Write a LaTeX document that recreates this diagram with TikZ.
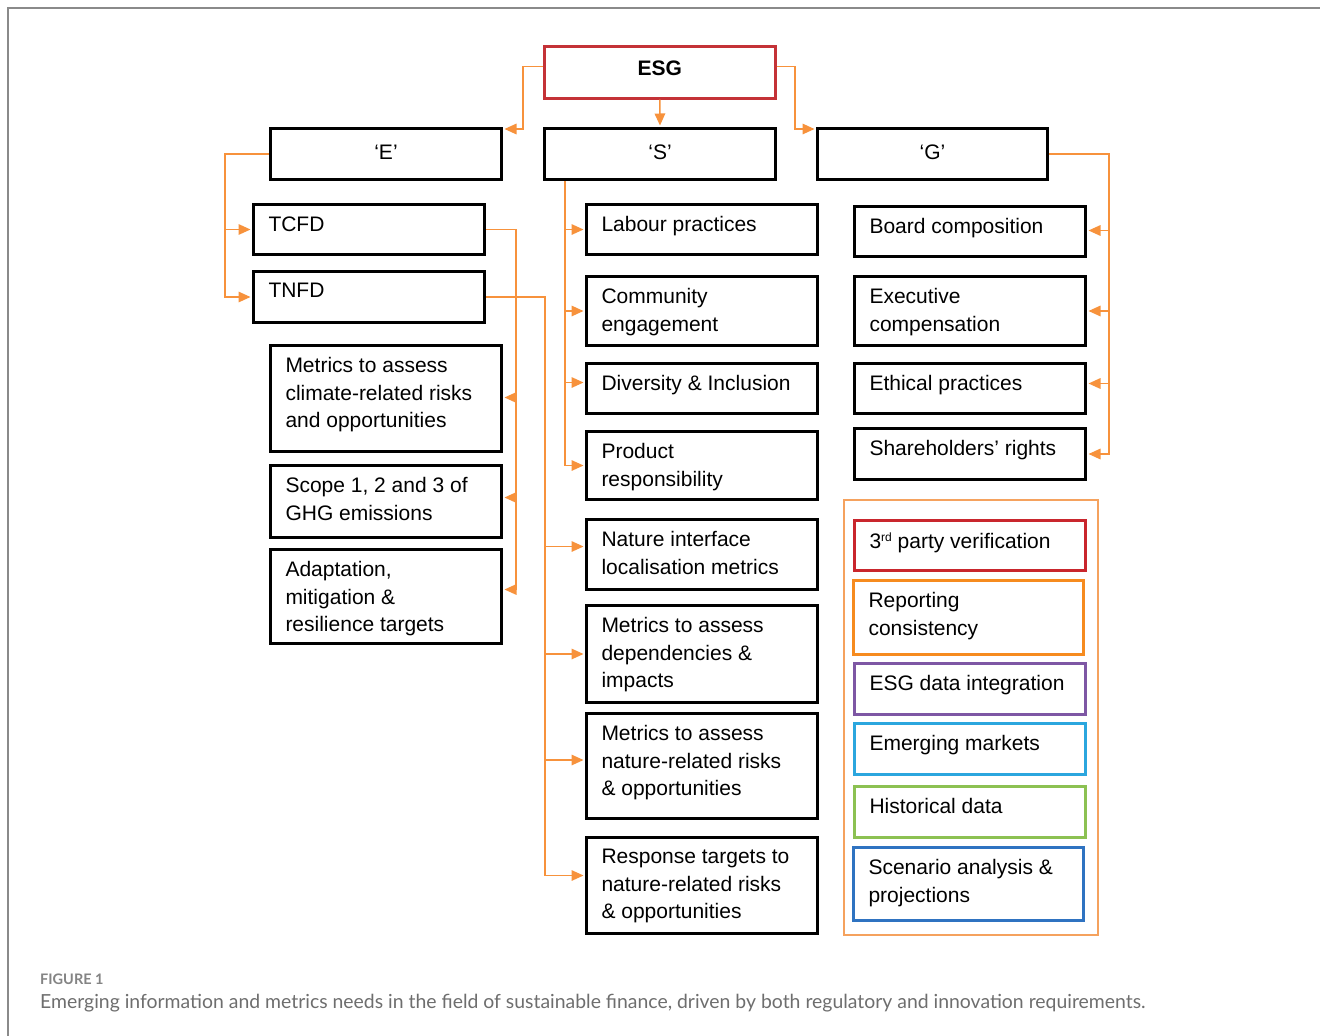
\documentclass[tikz,border=0pt]{standalone}
\usepackage{fontspec}
\setmainfont{Liberation Sans}
\newfontfamily\capfont{Lato}
\usetikzlibrary{arrows.meta,calc}
\definecolor{conor}{HTML}{F7923C}
\definecolor{contor}{HTML}{F5A25E}
\definecolor{esgred}{HTML}{C43237}
\definecolor{bred}{HTML}{C9262D}
\definecolor{bor}{HTML}{F68B1F}
\definecolor{bpur}{HTML}{7E57A4}
\definecolor{bcyan}{HTML}{2BA6DE}
\definecolor{bgreen}{HTML}{8CC152}
\definecolor{bblue}{HTML}{2F73C1}
\definecolor{framegray}{HTML}{8A8A8A}
\definecolor{capgray}{HTML}{6E6E6E}
\newcommand\tbox[7]{\node[bx,draw=#6] (#1) at (#2,#3) {\parbox[t][#5pt][t]{#4pt}{\vspace*{12pt}\raggedright\leftskip=15pt\relax #7}};}
\begin{document}
\begin{tikzpicture}[x=1pt,y=-1pt,
  bx/.style={line width=3pt, inner sep=0pt, anchor=north west, font=\fontsize{21}{27.5}\selectfont},
  cbx/.style={draw, line width=3pt, inner sep=0pt, anchor=north west, font=\fontsize{21}{27.5}\selectfont, text depth=4pt},
  con/.style={draw=conor, line width=1.6pt, -{Triangle[length=12pt,width=10.5pt]}, shorten >=1.5pt}]
\useasboundingbox (0,0) rectangle (1320,1036);
\fill[white] (0,0) rectangle (1320,1036);
\draw[framegray, line width=1.5pt] (8,1040) -- (8,8) -- (1324,8);

% top level
\node[cbx, draw=esgred, line width=2.6pt, minimum width=231pt, minimum height=52pt, text depth=8pt] (esg) at (543,45) {\textbf{ESG}};
\node[cbx, minimum width=231pt, minimum height=51pt] (e) at (269,127) {‘E’};
\node[cbx, minimum width=231pt, minimum height=51pt] (s) at (543,127) {‘S’};
\node[cbx, minimum width=230pt, minimum height=51pt] (g) at (816,127) {‘G’};

% E column
\tbox{tcfd}{252}{203}{231}{50}{black}{TCFD}
\tbox{tnfd}{252}{270}{231}{51}{black}{TNFD}
\tbox{mclim}{269}{344}{231}{106}{black}{Metrics to assess\\climate-related risks\\and opportunities}
\tbox{scope}{269}{464}{231}{72}{black}{Scope 1, 2 and 3 of\\GHG emissions}
\tbox{adapt}{269}{548}{231}{94}{black}{Adaptation,\\mitigation \&\\resilience targets}

% S column
\tbox{labour}{585}{203}{231}{50}{black}{Labour practices}
\tbox{comm}{585}{275}{231}{69}{black}{Community\\engagement}
\tbox{div}{585}{362}{231}{50}{black}{Diversity \& Inclusion}
\tbox{prod}{585}{430}{231}{68}{black}{Product\\responsibility}
\tbox{nat}{585}{518}{231}{70}{black}{Nature interface\\localisation metrics}
\tbox{dep}{585}{604}{231}{97}{black}{Metrics to assess\\dependencies \&\\impacts}
\tbox{mnat}{585}{712}{231}{105}{black}{Metrics to assess\\nature-related risks\\\& opportunities}
\tbox{resp}{585}{836}{231}{96}{black}{Response targets to\\nature-related risks\\\& opportunities}

% G column
\tbox{board}{853}{205}{231}{50}{black}{Board composition}
\tbox{exec}{853}{275}{231}{69}{black}{Executive\\compensation}
\tbox{eth}{853}{362}{231}{50}{black}{Ethical practices}
\tbox{share}{853}{427}{231}{51}{black}{Shareholders’ rights}

% container
\node[draw=contor, line width=1.5pt, inner sep=0pt, anchor=north west, minimum width=254pt, minimum height=435pt] (cont) at (843,499) {};
\tbox{third}{853}{519}{231}{50}{bred}{3{\fontsize{12}{12}\selectfont\raisebox{7pt}{rd}} party verification}
\tbox{report}{852}{579}{230}{74}{bor}{Reporting\\consistency}
\tbox{esgdata}{853}{662}{231}{51}{bpur}{ESG data integration}
\tbox{emerg}{853}{722}{231}{51}{bcyan}{Emerging markets}
\tbox{hist}{853}{785}{231}{51}{bgreen}{Historical data}
\tbox{scen}{852}{846}{230}{73}{bblue}{Scenario analysis \&\\projections}

% spine coordinates
\coordinate (eL) at (523,0);
\coordinate (eR) at (795,0);
\coordinate (sE) at (225,0);
\coordinate (sT) at (516,0);
\coordinate (sN) at (545,0);
\coordinate (sS) at (565,0);
\coordinate (sG) at (1109,0);

% ESG connectors
\coordinate (esgW) at ($(esg.west)+(0,-6)$);
\coordinate (esgE) at ($(esg.east)+(0,-6)$);
\coordinate (eT) at ($(e.north east)+(0,2)$);
\coordinate (gT) at ($(g.north west)+(0,2)$);
\draw[con] (esgW) -| (eL |- eT) -- (eT);
\draw[con] (esg.south) -- (s.north);
\draw[con] (esgE) -| (eR |- gT) -- (gT);

% E -> TCFD, TNFD
\draw[con] (e.west) -| (sE |- tnfd.west) -- (tnfd.west);
\draw[con] (sE |- tcfd.west) -- (tcfd.west);

% TCFD -> climate metrics
\coordinate (mcT) at ($(mclim.east)+(0,-1)$);
\coordinate (scT) at ($(scope.east)+(0,-4)$);
\coordinate (adT) at ($(adapt.east)+(0,-7)$);
\draw[con] (tcfd.east) -| (sT |- adT) -- (adT);
\draw[con] (sT |- mcT) -- (mcT);
\draw[con] (sT |- scT) -- (scT);

% TNFD -> nature metrics
\coordinate (natT) at ($(nat.west)+(0,-8)$);
\coordinate (depT) at (dep.west);
\coordinate (mnT) at ($(mnat.west)+(0,-6)$);
\coordinate (rsT) at ($(resp.west)+(0,-10)$);
\draw[con] (tnfd.east) -| (sN |- rsT) -- (rsT);
\draw[con] (sN |- natT) -- (natT);
\draw[con] (sN |- depT) -- (depT);
\draw[con] (sN |- mnT) -- (mnT);

% S -> social
\coordinate (divT) at ($(div.west)+(0,-6)$);
\draw[con] (sS |- s.south) |- (prod.west);
\draw[con] (sS |- labour.west) -- (labour.west);
\draw[con] (sS |- comm.west) -- (comm.west);
\draw[con] (sS |- divT) -- (divT);

% G -> governance
\coordinate (boT) at ($(board.east)+(0,-1)$);
\coordinate (ethT) at ($(eth.east)+(0,-5)$);
\draw[con] (g.east) -| (sG |- share.east) -- (share.east);
\draw[con] (sG |- boT) -- (boT);
\draw[con] (sG |- exec.east) -- (exec.east);
\draw[con] (sG |- ethT) -- (ethT);

% caption
\node[anchor=base west, inner sep=0pt, text=capgray!85, font=\capfont\bfseries\fontsize{14.5}{16}\selectfont] (figlab) at (40,984) {FIGURE 1};
\node[anchor=base west, inner sep=0pt, text=capgray, font=\capfont\fontsize{19.4}{22}\selectfont] (cap) at (40,1008) {Emerging information and metrics needs in the field of sustainable finance, driven by both regulatory and innovation requirements.};
\end{tikzpicture}
\end{document}
